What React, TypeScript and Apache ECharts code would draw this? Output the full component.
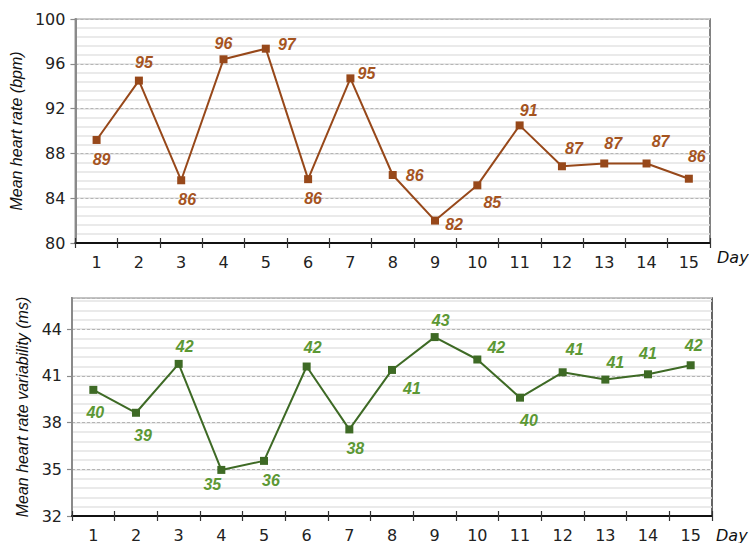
import React, { useEffect, useRef } from 'react';
import * as echarts from 'echarts';

const days = ['1', '2', '3', '4', '5', '6', '7', '8', '9', '10', '11', '12', '13', '14', '15'];
const heartRate = [89.2, 94.5, 85.6, 96.4, 97.35, 85.7, 94.7, 86.07, 82.0, 85.15, 90.5, 86.85, 87.1, 87.1, 85.74];
const hrv = [40.1, 38.63, 41.77, 34.96, 35.54, 41.6, 37.56, 41.38, 43.49, 42.05, 39.6, 41.23, 40.76, 41.1, 41.68];

const hrAxis = { min: 80, max: 100, interval: 4, minor: 0.8 };
const hrvAxis = { min: 32, max: 46, interval: 3, minor: 0.6 };

// label offsets (dx, dy) relative to each point
const hrLabelOffsets = [
  [5, 20], [5, -18], [6, 19], [0, -16], [21, -4], [5, 19], [16, -5], [22, 0],
  [19, 4], [15, 17], [9, -15], [12, -18], [9, -20], [14, -22], [8, -22],
];
const hrvLabelOffsets = [
  [2, 23], [7, 23], [6, -17], [-9, 15], [7, 20], [6, -19], [6, 19], [20, 19],
  [6, -17], [19, -12], [9, 23], [12, -23], [10, -17], [0, -21], [3, -20],
];

const FONT = '"Liberation Sans", Arial, sans-serif';
const TICK_FONT = '"DejaVu Sans", "Liberation Sans", sans-serif';

const HR_LINE = '#97481a';
const HR_LABEL = '#a5541f';
const HRV_LINE = '#3e6a25';
const HRV_LABEL = '#5c9834';

function xAxes(g: number) {
  return [
    {
      type: 'category',
      gridIndex: g,
      data: days,
      position: 'bottom',
      boundaryGap: true,
      axisLine: { show: true, lineStyle: { color: '#111', width: 2 } },
      axisTick: { show: true, length: 5, lineStyle: { color: '#333', width: 1.2 } },
      axisLabel: { color: '#222', fontSize: 16, margin: 11, fontFamily: TICK_FONT },
      splitLine: { show: false },
      z: 4,
    },
    {
      type: 'category',
      gridIndex: g,
      data: days,
      position: 'bottom',
      boundaryGap: true,
      axisLine: { show: false },
      axisTick: { show: true, inside: true, length: 5, lineStyle: { color: '#333', width: 1.2 } },
      axisLabel: { show: false },
      splitLine: { show: false },
      z: 4,
    },
  ];
}

function yAxes(g: number, ax: typeof hrAxis, name: string, nameGap: number, showMax: boolean) {
  return [
    {
      type: 'value',
      gridIndex: g,
      min: ax.min,
      max: ax.max,
      interval: ax.minor,
      position: 'left',
      axisLine: { show: false },
      axisTick: { show: false },
      axisLabel: { show: false },
      splitLine: { show: true, lineStyle: { color: '#e3e3e3', width: 1.6 } },
      z: 0,
    },
    {
      type: 'value',
      gridIndex: g,
      min: ax.min,
      max: ax.max,
      interval: ax.interval,
      position: 'left',
      axisLine: { show: true, lineStyle: { color: '#8a8a8a', width: 2 } },
      axisTick: { show: true, length: 5, lineStyle: { color: '#8a8a8a', width: 1.2 } },
      axisLabel: { color: '#222', fontSize: 16, margin: 10, fontFamily: TICK_FONT, showMaxLabel: showMax },
      splitLine: { show: true, lineStyle: { color: '#b5b5b5', width: 1, type: [3, 2] } },
      name,
      nameLocation: 'middle',
      nameGap,
      nameTextStyle: { fontStyle: 'italic', fontSize: 16, color: '#111', fontFamily: FONT },
      z: 1,
    },
  ];
}

function seriesData(values: number[], offsets: number[][]) {
  return values.map((v, i) => ({ value: v, label: { offset: offsets[i] } }));
}

function lineSeries(xi: number, yi: number, values: number[], offsets: number[][], line: string, label: string) {
  return {
    type: 'line',
    xAxisIndex: xi,
    yAxisIndex: yi,
    data: seriesData(values, offsets),
    symbol: 'rect',
    symbolSize: 8,
    lineStyle: { color: line, width: 2 },
    itemStyle: { color: line },
    label: {
      show: true,
      position: 'inside',
      formatter: (p: any) => String(Math.round(p.value)),
      color: label,
      fontSize: 16,
      fontWeight: 'bold',
      fontStyle: 'italic',
      fontFamily: FONT,
    },
    z: 5,
  };
}

export default function App() {
  const ref = useRef<HTMLDivElement>(null);

  useEffect(() => {
    if (!ref.current) return;
    const chart = echarts.init(ref.current, undefined, { renderer: 'svg' });
    chart.setOption({
      animation: false,
      backgroundColor: '#ffffff',
      grid: [
        { left: 73, top: 19, width: 637, height: 224, show: true, borderColor: '#5a5a5a', borderWidth: 1.5, backgroundColor: 'transparent' },
        { left: 72, top: 298, width: 640, height: 218, show: true, borderColor: '#333', borderWidth: 1.5, backgroundColor: 'transparent' },
      ],
      xAxis: [...xAxes(0), ...xAxes(1)],
      yAxis: [
        ...yAxes(0, hrAxis, 'Mean heart rate (bpm)', 42, true),
        ...yAxes(1, hrvAxis, 'Mean heart rate variability (ms)', 41, false),
      ],
      graphic: [
        {
          type: 'text',
          x: 717,
          y: 249,
          style: { text: 'Day', font: 'italic 16px "DejaVu Sans", sans-serif', fill: '#111' },
        },
        {
          type: 'text',
          x: 716,
          y: 527,
          style: { text: 'Day', font: 'italic 16px "DejaVu Sans", sans-serif', fill: '#111' },
        },
      ],
      series: [
        lineSeries(0, 1, heartRate, hrLabelOffsets, HR_LINE, HR_LABEL),
        lineSeries(2, 3, hrv, hrvLabelOffsets, HRV_LINE, HRV_LABEL),
      ],
    });
    return () => chart.dispose();
  }, []);

  return (
    <div
      ref={ref}
      style={{ position: 'fixed', left: 0, top: 0, width: 749, height: 543, background: '#fff' }}
    />
  );
}
